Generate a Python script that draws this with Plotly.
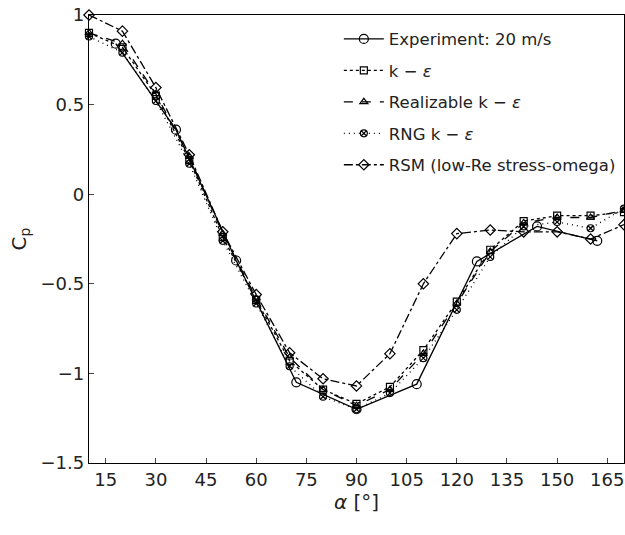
import plotly.graph_objects as go

# Experimental data
exp_alpha = [18, 36, 54, 72, 90, 108, 126, 144, 162]
exp_cp = [0.84, 0.36, -0.37, -1.05, -1.20, -1.06, -0.375, -0.18, -0.26]

# CFD angles
cfd_alpha = [10, 20, 30, 40, 50, 60, 70, 80, 90, 100, 110, 120, 130, 140, 150, 160, 170]
ke_cp = [0.90, 0.82, 0.55, 0.19, -0.24, -0.59, -0.93, -1.09, -1.17, -1.075, -0.87, -0.60, -0.31, -0.15, -0.12, -0.12, -0.10]
real_cp = [0.90, 0.84, 0.56, 0.21, -0.22, -0.58, -0.91, -1.09, -1.18, -1.09, -0.89, -0.61, -0.32, -0.16, -0.13, -0.13, -0.09]
rng_cp = [0.88, 0.79, 0.52, 0.17, -0.26, -0.61, -0.96, -1.13, -1.20, -1.11, -0.915, -0.645, -0.35, -0.18, -0.155, -0.19, -0.08]
rsm_cp = [1.00, 0.91, 0.595, 0.22, -0.21, -0.56, -0.885, -1.03, -1.07, -0.89, -0.50, -0.22, -0.20, -0.21, -0.21, -0.25, -0.17]

x_ticks = [15, 30, 45, 60, 75, 90, 105, 120, 135, 150, 165]
y_ticks = [-1.5, -1, -0.5, 0, 0.5, 1]

FONT = "DejaVu Sans"
fig = go.Figure()

series = [
    ("Experiment: 20 m/s", exp_alpha, exp_cp, "solid", "circle-open", 9),
    ("k − <i>ε</i>", cfd_alpha, ke_cp, "dot", "square-open", 7),
    ("Realizable k − <i>ε</i>", cfd_alpha, real_cp, "dash", "triangle-up-open", 7),
    ("RNG k − <i>ε</i>", cfd_alpha, rng_cp, "1px,4px", "circle-x-open", 7),
    ("RSM (low-Re stress-omega)", cfd_alpha, rsm_cp, "dashdot", "diamond-open", 8),
]
for i, (name, xs, ys, dash, sym, size) in enumerate(series):
    fig.add_trace(go.Scatter(
        x=xs, y=ys, name=name, mode="lines+markers",
        line=dict(color="black", width=1.3, dash=dash),
        marker=dict(symbol=sym, size=size, color="black",
                    line=dict(color="black", width=1.2)),
        cliponaxis=False, legendgroup=f"g{i}",
    ))

fig.update_layout(
    width=625, height=535, autosize=False,
    margin=dict(l=89, r=1, t=15, b=72, autoexpand=False),
    paper_bgcolor="white", plot_bgcolor="white",
    font=dict(family=FONT, size=18, color="#222"),
    showlegend=True,
    legend=dict(x=0.467, y=0.985, xanchor="left", yanchor="top",
                bgcolor="rgba(0,0,0,0)", font=dict(size=16.5, family=FONT),
                traceorder="grouped", tracegroupgap=7, itemwidth=40),
    xaxis=dict(range=[10, 170], tickvals=x_ticks, ticks="inside", ticklen=5,
               showline=True, linecolor="black", linewidth=1.3, mirror=True,
               showgrid=False, zeroline=False, automargin=False,
               title=dict(text="<i>α</i> [°]", font=dict(size=20), standoff=0)),
    yaxis=dict(range=[-1.5, 1], tickvals=y_ticks, ticks="inside", ticklen=5,
               showline=True, linecolor="black", linewidth=1.3, mirror=True,
               showgrid=False, zeroline=False, automargin=False,
               title=dict(text="C<sub>p</sub>", font=dict(size=20), standoff=8)),
)

fig.write_html(
    "out.html",
    config={"responsive": False, "displayModeBar": False},
    post_script="document.body.style.margin='0';document.body.style.overflow='hidden';",
)
